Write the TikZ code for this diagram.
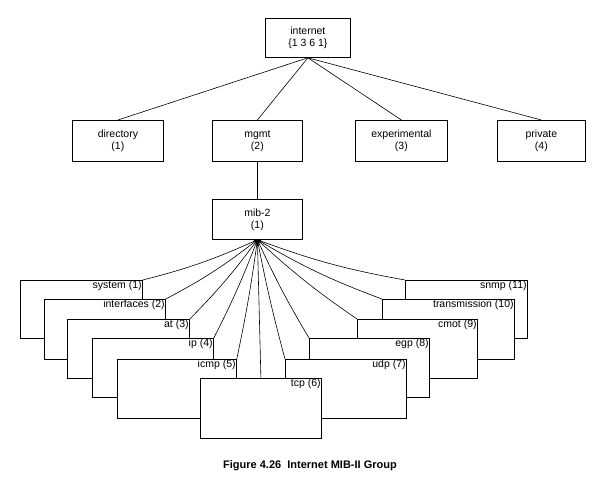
\documentclass[tikz,border=0pt]{standalone}
\usepackage{fontspec}
\setmainfont{Liberation Sans}
\begin{document}
\begin{tikzpicture}[x=1pt,y=-1pt,
  box/.style={draw,fill=white,line width=0.8pt,inner sep=0pt,anchor=north west,font=\fontsize{10.5}{12}\selectfont,align=center},
  lbl/.style={anchor=north east,inner sep=1pt,font=\fontsize{10.5}{11}\selectfont},
  conn/.style={line width=0.6pt}]
\useasboundingbox (0,0) rectangle (615,497);
\newcommand\tbox[6]{\node[box,minimum width=#4-#2,minimum height=#5-#3] (#1) at (#2,#3) {#6};}
\newcommand\bbox[6]{\node[box,minimum width=#4-#2,minimum height=#5-#3,label={[lbl]north east:#6}] (#1) at (#2,#3) {};}
\tbox{inet}{265}{18}{350}{57}{internet\\\{1 3 6 1\}}
\tbox{dir}{72}{120}{163}{161}{directory\\(1)}
\tbox{mgmt}{212}{120}{302}{161}{mgmt\\(2)}
\tbox{exp}{355}{120}{447}{161}{experimental\\(3)}
\tbox{priv}{497}{120}{585}{161}{private\\(4)}
\tbox{mib}{212}{199}{302}{239}{mib-2\\(1)}
\coordinate (top) at (inet.south);
\coordinate (apex) at (mib.south);
\foreach \n in {dir,mgmt,exp,priv} \draw[conn] (top) -- (\n.north);
\draw[conn] (mgmt) -- (mib);
\bbox{sys}{20}{280}{142}{338}{system (1)}
\bbox{snmp}{405}{280}{527}{338}{snmp (11)}
\bbox{ifs}{44}{299}{165}{359}{interfaces (2)}
\bbox{trans}{382}{299}{514}{359}{transmission (10)}
\bbox{at}{67}{319}{189}{378}{at (3)}
\bbox{cmot}{357}{319}{477}{378}{cmot (9)}
\bbox{ip}{92}{338}{213}{397}{ip (4)}
\bbox{egp}{309}{338}{429}{397}{egp (8)}
\bbox{icmp}{117}{359}{236}{418}{icmp (5)}
\bbox{udp}{285}{359}{406}{418}{udp (7)}
\bbox{tcp}{200}{378}{321}{438}{tcp (6)}
\foreach \n/\b in {sys/5,ifs/5,at/4,ip/3,icmp/2} \draw[conn] (apex) to[bend left=\b] (\n.north east);
\foreach \n/\b in {snmp/-5,trans/-5,cmot/-4,egp/-3,udp/-2} \draw[conn] (apex) to[bend left=\b] (\n.north west);
\draw[conn] (apex) -- (tcp.north);
\fill (apex) ++(-4,0) -- ++(8,0) -- ++(-4,6) -- cycle;
\node[font=\fontsize{11}{13}\selectfont\bfseries] (cap) at (310,466) {Figure 4.26\ \ Internet MIB-II Group};
\end{tikzpicture}
\end{document}
